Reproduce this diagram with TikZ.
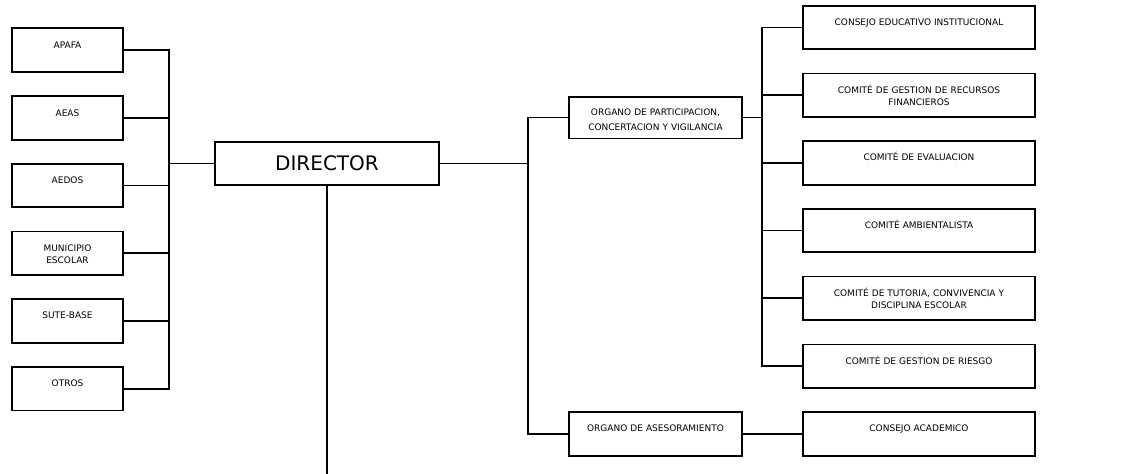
\documentclass[tikz,border=0pt]{standalone}
\usepackage{fontspec}
\setmainfont{DejaVu Sans}
\usetikzlibrary{positioning, calc}

\begin{document}
\begin{tikzpicture}[x=1pt, y=-1pt,
  orgbox/.style={draw, rectangle, line width=1.8pt, inner xsep=0pt, inner ysep=0pt,
    text width=#1, align=center, text height=19.8pt, text depth=23.8pt,
    font=\fontsize{9}{12}\selectfont},
  link/.style={line width=1.8pt}]
\useasboundingbox (0,0) rectangle (1125,474);

% Director
\node[draw, rectangle, line width=1.8pt, inner sep=0pt, minimum width=224.2pt, minimum height=43.2pt, font=\fontsize{20}{24}\selectfont] (director) at (327,163.5) {DIRECTOR};

% Left side
\node[orgbox=111.2pt] (apafa) at (67.5,50) {APAFA};
\node[orgbox=111.2pt] (aeas) at (67.5,118) {AEAS};
\node[orgbox=111.2pt] (aedos) at (67.5,185.5) {AEDOS};
\node[orgbox=111.2pt] (municipio) at (67.5,253.3) {MUNICIPIO\\ESCOLAR};
\node[orgbox=111.2pt] (sute) at (67.5,320.8) {SUTE-BASE};
\node[orgbox=111.2pt] (otros) at (67.5,388.7) {OTROS};

% Organos
\node[orgbox=173.2pt, text height=19.1pt, text depth=22.7pt] (participacion) at (655.5,117.5) {ORGANO DE PARTICIPACION,\\[2.5pt]CONCERTACION Y VIGILANCIA};
\node[orgbox=173.2pt] (asesoramiento) at (655.5,433.8) {ORGANO DE ASESORAMIENTO};

% Comites
\node[orgbox=232.2pt] (consejo) at (919,27.5) {CONSEJO EDUCATIVO INSTITUCIONAL};
\node[orgbox=232.2pt] (gestion) at (919,95.2) {COMITÉ DE GESTION DE RECURSOS\\FINANCIEROS};
\node[orgbox=232.2pt] (evaluacion) at (919,162.8) {COMITÉ DE EVALUACION};
\node[orgbox=232.2pt] (ambiental) at (919,230.5) {COMITÉ AMBIENTALISTA};
\node[orgbox=232.2pt] (tutoria) at (919,298.3) {COMITÉ DE TUTORIA, CONVIVENCIA Y\\DISCIPLINA ESCOLAR};
\node[orgbox=232.2pt] (riesgo) at (919,366.3) {COMITÉ DE GESTION DE RIESGO};
\node[orgbox=232.2pt] (academico) at (919,433.8) {CONSEJO ACADEMICO};

% Connectors
\coordinate (lbus) at (169,163.5);
\coordinate (rbus) at (528,163.5);
\coordinate (cbus) at (762,117.5);
\coordinate (dfoot) at (327,474);

\foreach \n in {apafa,aeas,aedos,municipio,sute,otros}
  \draw[link] (\n.east) -| (lbus);
\draw[link] (lbus) -- (director.west);
\draw[link] (director.south) -- (dfoot);

\draw[link] (director.east) -- (rbus);
\draw[link] (rbus) |- (participacion.west);
\draw[link] (rbus) |- (asesoramiento.west);

\draw[link] (participacion.east) -- (cbus);
\foreach \n in {consejo,gestion,evaluacion,ambiental,tutoria,riesgo}
  \draw[link] (cbus) |- (\n.west);
\draw[link] (asesoramiento.east) -- (academico.west);
\end{tikzpicture}
\end{document}
